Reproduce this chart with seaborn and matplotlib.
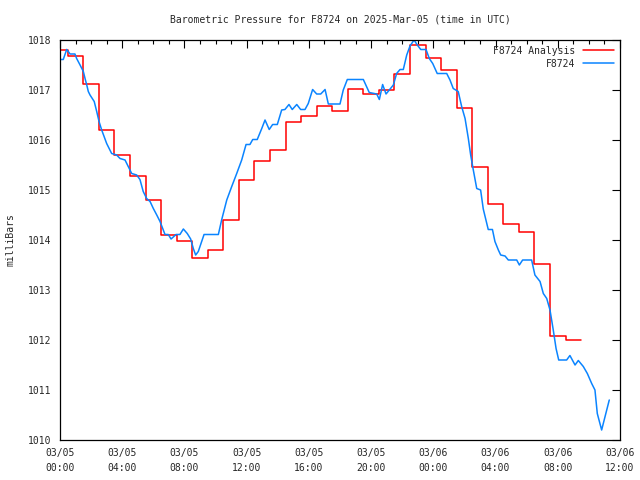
import matplotlib
matplotlib.use("Agg")
import matplotlib.pyplot as plt
import seaborn as sns
import numpy as np
import pandas as pd

# ---- data ----
# Analysis (hourly values, each held from h-0.5 to h+0.5)
analysis_hours = list(range(0, 34))
analysis_values = [1017.80, 1017.68, 1017.13, 1016.21, 1015.70, 1015.28, 1014.81, 1014.11,
                   1013.98, 1013.64, 1013.81, 1014.40, 1015.20, 1015.58, 1015.80, 1016.36,
                   1016.49, 1016.69, 1016.58, 1017.03, 1016.93, 1017.01, 1017.33, 1017.91,
                   1017.65, 1017.40, 1016.65, 1015.47, 1014.72, 1014.32, 1014.16, 1013.52,
                   1012.08, 1012.00]

# Observations (hours since 03/05 00:00 UTC)
obs_hours = [0.00, 0.21, 0.43, 0.58, 0.64, 0.96, 1.07, 1.29, 1.50, 1.61, 1.72, 1.82, 1.93,
             2.08, 2.20, 2.36, 2.51, 2.68, 3.00, 3.32, 3.64, 3.86, 4.18, 4.39, 4.61, 4.93,
             5.14, 5.35, 5.57, 5.79, 6.00, 6.22, 6.43, 6.64, 6.75, 6.96, 7.14, 7.46, 7.71,
             7.93, 8.18, 8.40, 8.57, 8.72, 8.89, 9.11, 9.26, 10.18, 10.39, 10.72, 11.04,
             11.36, 11.68, 11.96, 12.21, 12.39, 12.68, 12.97, 13.18, 13.45, 13.67, 13.97,
             14.25, 14.46, 14.72, 14.93, 15.22, 15.47, 15.75, 15.96, 16.24, 16.50, 16.76,
             17.04, 17.25, 18.00, 18.21, 18.47, 19.50, 19.88, 20.36, 20.53, 20.74, 20.96,
             21.17, 21.43, 21.64, 21.86, 22.07, 22.29, 22.50, 22.76, 22.97, 23.19, 23.53,
             23.74, 23.96, 24.25, 24.86, 25.07, 25.28, 25.60, 25.82, 26.04, 26.25, 26.40,
             26.57, 26.79, 27.04, 27.21, 27.42, 27.53, 27.80, 27.96, 28.18, 28.33, 28.61,
             28.82, 29.36, 29.53, 29.74, 30.32, 30.53, 30.86, 31.07, 31.29, 31.50, 31.71,
             31.89, 32.06, 32.57, 32.78, 33.11, 33.32, 33.64, 33.90, 34.18, 34.39, 34.54,
             34.82, 35.04, 35.31]
obs_values = [1017.61, 1017.61, 1017.81, 1017.75, 1017.72, 1017.72, 1017.63, 1017.50, 1017.37,
              1017.23, 1017.10, 1016.97, 1016.90, 1016.83, 1016.77, 1016.57, 1016.37, 1016.20,
              1015.93, 1015.73, 1015.70, 1015.63, 1015.60, 1015.47, 1015.33, 1015.30, 1015.21,
              1014.97, 1014.83, 1014.77, 1014.63, 1014.50, 1014.37, 1014.20, 1014.11, 1014.11,
              1014.02, 1014.11, 1014.11, 1014.22, 1014.13, 1014.02, 1013.83, 1013.70, 1013.77,
              1013.97, 1014.11, 1014.11, 1014.40, 1014.80, 1015.07, 1015.33, 1015.60, 1015.91,
              1015.91, 1016.01, 1016.01, 1016.23, 1016.40, 1016.21, 1016.31, 1016.31, 1016.60,
              1016.61, 1016.71, 1016.61, 1016.71, 1016.61, 1016.61, 1016.73, 1017.01, 1016.92,
              1016.92, 1017.01, 1016.72, 1016.72, 1017.00, 1017.21, 1017.21, 1016.95, 1016.92,
              1016.81, 1017.11, 1016.92, 1017.00, 1017.10, 1017.33, 1017.41, 1017.41, 1017.70,
              1017.88, 1018.00, 1017.90, 1017.81, 1017.81, 1017.63, 1017.53, 1017.33, 1017.33,
              1017.20, 1017.03, 1016.97, 1016.67, 1016.43, 1016.03, 1015.70, 1015.40, 1015.03,
              1015.00, 1014.62, 1014.35, 1014.21, 1014.21, 1013.97, 1013.80, 1013.70, 1013.68,
              1013.60, 1013.60, 1013.50, 1013.60, 1013.60, 1013.30, 1013.17, 1012.93, 1012.83,
              1012.60, 1012.20, 1011.83, 1011.60, 1011.60, 1011.69, 1011.50, 1011.59, 1011.47,
              1011.33, 1011.13, 1011.00, 1010.53, 1010.20, 1010.47, 1010.80]

x_tick_hours = [0, 4, 8, 12, 16, 20, 24, 28, 32, 36]
x_tick_labels = ["03/05\n00:00", "03/05\n04:00", "03/05\n08:00", "03/05\n12:00",
                 "03/05\n16:00", "03/05\n20:00", "03/06\n00:00", "03/06\n04:00",
                 "03/06\n08:00", "03/06\n12:00"]
y_ticks = [1010, 1011, 1012, 1013, 1014, 1015, 1016, 1017, 1018]

title = "Barometric Pressure for F8724 on 2025-Mar-05 (time in UTC)"
ylabel = "milliBars"
label_analysis = "F8724 Analysis"
label_obs = "F8724"

# ---- build step series for analysis ----
step_t = [h - 0.5 for h in analysis_hours] + [analysis_hours[-1] + 0.5]
step_v = analysis_values + [analysis_values[-1]]
df_a = pd.DataFrame({"t": step_t, "v": step_v})
df_o = pd.DataFrame({"t": obs_hours, "v": obs_values})

# ---- plot ----
sns.set_style("white")
plt.rcParams["font.family"] = ["DejaVu Sans Mono"]
fig = plt.figure(figsize=(6.4, 4.8), dpi=100)
ax = fig.add_axes([60 / 640, 40 / 480, 560 / 640, 400 / 480])

sns.lineplot(data=df_a, x="t", y="v", ax=ax, color="#ff0000", linewidth=1.1,
             drawstyle="steps-post", label=label_analysis, estimator=None, sort=False)
sns.lineplot(data=df_o, x="t", y="v", ax=ax, color="#0a84ff", linewidth=1.1,
             label=label_obs, estimator=None, sort=False)

ax.set_xlim(0, 36)
ax.set_ylim(1010, 1018)
ax.set_xticks(x_tick_hours)
ax.set_xticklabels(x_tick_labels, fontsize=7, linespacing=1.55)
ax.set_xticks(range(0, 37), minor=True)
ax.set_yticks(y_ticks)
ax.set_yticklabels([str(v) for v in y_ticks], fontsize=7)
ax.tick_params(which="both", direction="in", top=True, right=True, color="black", width=0.8)
ax.tick_params(which="major", length=6, pad=6)
ax.tick_params(which="minor", length=3)
ax.tick_params(axis="x", which="major", pad=6)
for s in ax.spines.values():
    s.set_color("black")
    s.set_linewidth(0.9)

ax.set_xlabel("")
ax.set_ylabel(ylabel, fontsize=7, labelpad=9)
fig.text(0.5 + 20 / 640, 1 - 19 / 480, title, ha="center", va="center", fontsize=7)

leg = ax.legend(loc="upper right", frameon=False, markerfirst=False, fontsize=7,
                handlelength=3.2, handletextpad=0.8, borderaxespad=0.2, labelspacing=0.3)

fig.savefig("out.png", dpi=100)
